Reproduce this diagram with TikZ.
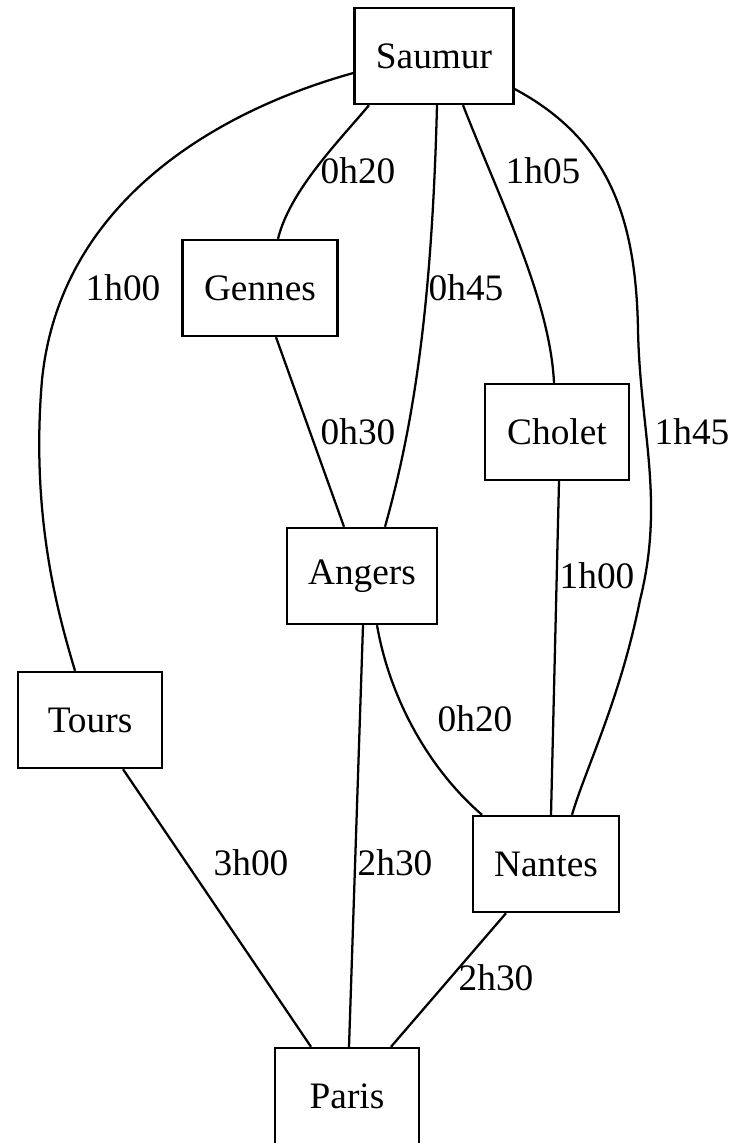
\documentclass[tikz,border=0pt]{standalone}
\usepackage{fontspec}
\setmainfont{Liberation Serif}
\usetikzlibrary{calc}
\begin{document}
\begin{tikzpicture}[x=0.375pt,y=-0.375pt,
  city/.style={draw,line width=0.9pt,rectangle,minimum width=54pt,minimum height=36pt,inner xsep=8pt,font=\fontsize{14pt}{16pt}\selectfont},
  lbl/.style={inner sep=0pt,font=\fontsize{14pt}{16pt}\selectfont},
  link/.style={line width=0.85pt}]
\useasboundingbox (0,0) rectangle (730,1143);
\node[city] (Saumur) at (434,56) {Saumur};
\node[city] (Gennes) at (260,288) {Gennes};
\node[city] (Cholet) at (557,432) {Cholet};
\node[city] (Angers) at (362,576) {Angers};
\node[city] (Tours) at (90,720) {Tours};
\node[city] (Nantes) at (546,864) {Nantes};
\node[city] (Paris) at (347,1096) {Paris};
% edges
\draw[link] ($(Saumur.west)+(0,17)$) .. controls (220,110) and (60,200) .. (42,380) .. controls (30,520) and (60,620) .. ($(Tours.north)+(-15,0)$);
\draw[link] ($(Saumur.south)+(-65,0)$) .. controls (340,140) and (290,190) .. ($(Gennes.north)+(18,0)$);
\draw[link] ($(Saumur.south)+(3,0)$) .. controls (432,300) and (415,420) .. ($(Angers.north)+(23,0)$);
\draw[link] ($(Saumur.south)+(29,0)$) .. controls (500,200) and (550,300) .. ($(Cholet.north)+(-3,0)$);
\draw[link] ($(Saumur.east)+(0,33)$) .. controls (610,140) and (636,220) .. (638,330) .. controls (640,430) and (665,500) .. (640,600) .. controls (620,700) and (585,770) .. ($(Nantes.north)+(26,0)$);
\draw[link] ($(Gennes.south)+(16,0)$) -- ($(Angers.north)+(-18,0)$);
\draw[link] ($(Cholet.south)+(2,0)$) -- ($(Nantes.north)+(5,0)$);
\draw[link] ($(Angers.south)+(15,0)$) .. controls (390,700) and (430,770) .. ($(Nantes.north)+(-64,0)$);
\draw[link] ($(Angers.south)+(1,0)$) -- ($(Paris.north)+(2,0)$);
\draw[link] ($(Tours.south)+(33,0)$) -- ($(Paris.north)+(-36,0)$);
\draw[link] ($(Nantes.south)+(-40,0)$) -- ($(Paris.north)+(44,0)$);
% labels
\node[lbl] (lST) at (123,288) {1h00};
\node[lbl] (lSG) at (358,171) {0h20};
\node[lbl] (lSA) at (466,288) {0h45};
\node[lbl] (lSC) at (543,171) {1h05};
\node[lbl] (lSN) at (692,432) {1h45};
\node[lbl] (lGA) at (358,432) {0h30};
\node[lbl] (lCN) at (597,576) {1h00};
\node[lbl] (lAN) at (475,719) {0h20};
\node[lbl] (lTP) at (251,863) {3h00};
\node[lbl] (lAP) at (395,863) {2h30};
\node[lbl] (lNP) at (496,978) {2h30};
\end{tikzpicture}
\end{document}
